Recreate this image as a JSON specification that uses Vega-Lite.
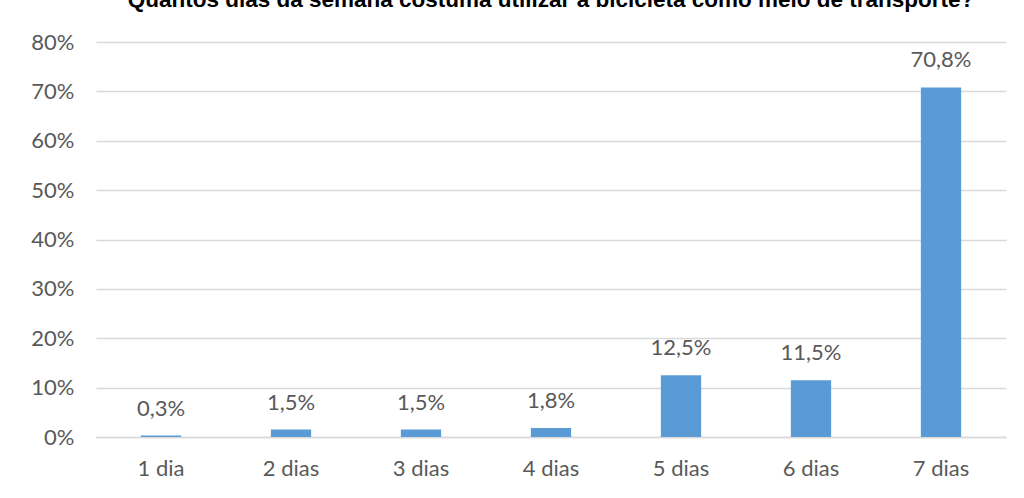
{
  "$schema": "https://vega.github.io/schema/vega-lite/v6.json",
  "width": 910,
  "height": 395,
  "autosize": {"type": "none"},
  "padding": {"left": 96, "top": 42, "right": 18, "bottom": 61},
  "background": "white",
  "title": {
    "text": "Quantos dias da semana costuma utilizar a bicicleta como meio de transporte?",
    "font": "Liberation Sans",
    "fontSize": 22.5,
    "fontWeight": "bold",
    "color": "black",
    "anchor": "middle",
    "frame": "group",
    "baseline": "middle",
    "offset": 0,
    "dy": -9
  },
  "config": {
    "view": {"stroke": null},
    "locale": {"number": {"decimal": ",", "thousands": ".", "grouping": [3], "currency": ["", ""]}},
    "axis": {"labelFont": "Lato", "labelFontSize": 22, "labelColor": "#595959", "ticks": false, "title": null}
  },
  "data": {
    "values": [
      {"dias": "1 dia", "pct": 0.003},
      {"dias": "2 dias", "pct": 0.015},
      {"dias": "3 dias", "pct": 0.015},
      {"dias": "4 dias", "pct": 0.018},
      {"dias": "5 dias", "pct": 0.125},
      {"dias": "6 dias", "pct": 0.115},
      {"dias": "7 dias", "pct": 0.708}
    ]
  },
  "encoding": {
    "x": {
      "field": "dias", "type": "nominal", "sort": null,
      "scale": {"paddingInner": 0.69, "paddingOuter": 0.345},
      "axis": {"labelAngle": 0, "labelPadding": 21, "domainColor": "#D9D9D9", "domainWidth": 1.5}
    },
    "y": {
      "field": "pct", "type": "quantitative",
      "scale": {"domain": [0, 0.8]},
      "axis": {"format": ".0%", "tickCount": 8, "domain": false, "gridColor": "#D9D9D9", "gridWidth": 1.5, "labelPadding": 22}
    }
  },
  "layer": [
    {"mark": {"type": "bar", "color": "#5B9BD5"}},
    {"mark": {"type": "text", "baseline": "bottom", "dy": -15, "font": "Lato", "fontSize": 22, "color": "#595959"},
     "encoding": {"text": {"field": "pct", "type": "quantitative", "format": ".1%"}}}
  ]
}
